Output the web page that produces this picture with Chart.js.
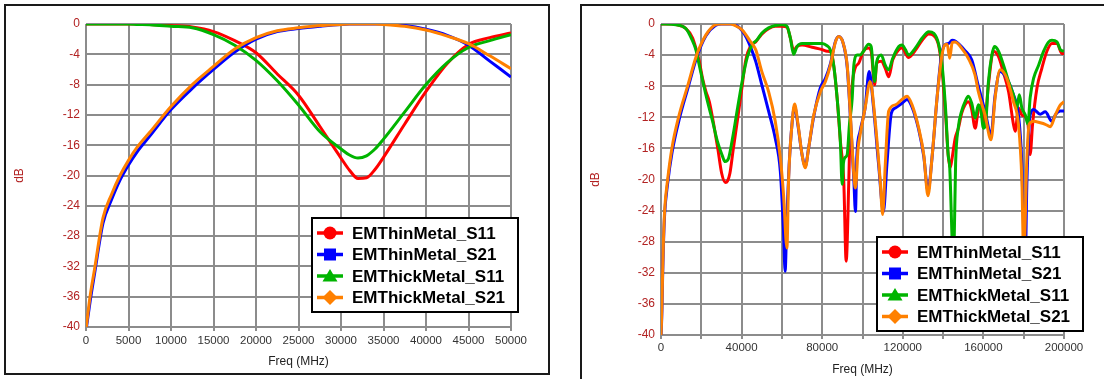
<!DOCTYPE html>
<html>
<head>
<meta charset="utf-8">
<title>EM thin / thick metal S-parameters</title>
<script src="https://cdn.jsdelivr.net/npm/chart.js@4.4.1/dist/chart.umd.min.js"></script>
<style>
  html, body { margin: 0; padding: 0; background: #fff; }
  body { width: 1104px; height: 379px; position: relative; overflow: hidden; }
  .panel { position: absolute; box-sizing: border-box; border: 2px solid #1a1a1a; background: #fff; }
  #panel-left { left: 4px; top: 4px; width: 546px; height: 371px; }
  #panel-right { left: 580px; top: 4px; width: 600px; height: 420px; }
  .plot { position: absolute; }
  #plot-left { left: 7px; top: 7px; width: 540px; height: 365px; }
  #plot-right { left: 583px; top: 7px; width: 521px; height: 372px; }
</style>
</head>
<body>
<div class="panel" id="panel-left"></div>
<div class="panel" id="panel-right"></div>
<div class="plot" id="plot-left"><canvas id="chart-left"></canvas></div>
<div class="plot" id="plot-right"><canvas id="chart-right"></canvas></div>

<script>
// ── Left plot: 0–50 GHz sweep (MHz / dB) ──────────
const freqLeft = [0, 500, 1000, 2000, 3000, 4000, 5000, 6000, 7500, 10000, 12500, 15000, 17500, 20000,
  22500, 25000, 27500, 30000, 31000, 32000, 33000, 34000, 35000, 37500, 40000, 42500, 45000, 47500, 50000];
const thinS11Left = [0, 0, 0, 0, 0, 0, 0, -0.02, -0.05, -0.2, -0.4, -1.0, -2.2, -3.8,
  -6.6, -9.4, -13.5, -17.7, -19.3, -20.4, -20.3, -19.2, -17.6, -13.2, -8.9, -5.2, -2.7, -1.8, -1.2];
const thinS21Left = [-40.5, -36.5, -33, -26.3, -23.2, -20.6, -18.6, -16.9, -14.8, -11.3, -8.5, -6.0, -3.7, -2.0,
  -1.0, -0.6, -0.3, -0.05, 0, 0, 0, 0, 0, -0.2, -0.7, -1.5, -2.8, -4.9, -7.0];
const thickS11Left = [0, 0, 0, 0, 0, 0, 0, -0.05, -0.1, -0.3, -0.5, -1.4, -2.8, -4.8,
  -7.5, -10.7, -14.2, -16.5, -17.3, -17.7, -17.4, -16.5, -15.2, -11.6, -8.0, -5.1, -3.1, -2.2, -1.4];
const thickS21Left = [-40.3, -35.8, -32.4, -25.6, -22.5, -20.0, -18.0, -16.3, -14.3, -10.9, -8.0, -5.6, -3.3, -1.8,
  -0.9, -0.5, -0.2, -0.05, 0, 0, 0, 0, -0.05, -0.3, -0.8, -1.6, -2.6, -4.2, -5.9];

// ── Right plot: 0–200 GHz sweep, [MHz, dB] pairs ──
const thinS11Right = [[0, 0], [5000, 0], [8000, -0.1], [12000, -0.5], [15700, -1.8], [17300, -3.1], [19000, -4.8],
  [20600, -7.0], [22300, -8.7], [24000, -10.0], [25600, -12.1], [27200, -14.5], [28300, -16.2], [30100, -19.2],
  [32000, -20.4], [33000, -20.2], [34200, -19.2], [35800, -16.2], [38300, -11.7], [40000, -8.5], [42100, -4.6],
  [44500, -2.8], [47000, -2.3], [50000, -1.3], [53400, -0.6], [56700, -0.3], [60000, -0.3], [62500, -0.4],
  [64200, -1.8], [65800, -3.4], [67500, -2.9], [70000, -2.7], [75000, -3.0], [80000, -3.3], [82400, -3.5],
  [84500, -3.6], [85700, -5.3], [87400, -9.5], [89000, -15.0], [90700, -20.2], [91900, -30.5], [93200, -20.2],
  [94000, -11.7], [95000, -7.5], [96300, -5.7], [98200, -5.0], [100500, -3.5], [103000, -3.1], [104300, -3.5],
  [106000, -7.8], [107100, -5.0], [109300, -4.8], [111300, -5.7], [113000, -6.8], [115000, -4.6], [118000, -3.3],
  [119600, -3.1], [122900, -4.3], [126200, -3.4], [129600, -2.1], [132900, -1.3], [135400, -1.5], [137900, -2.9],
  [139500, -6.0], [141200, -11.5], [142500, -16.8], [143500, -18.5], [144500, -17.2], [146000, -14.7],
  [147600, -13.4], [149200, -11.5], [150900, -10.4], [152500, -10.0], [154200, -11.0], [155900, -13.4],
  [157500, -11.0], [159200, -10.4], [160500, -12.9], [162500, -7.8], [165000, -3.5], [167500, -4.2],
  [170000, -6.3], [172500, -8.7], [174900, -12.9], [175800, -13.8], [177400, -10.8], [179100, -11.7],
  [181000, -12.0], [182200, -13.0], [183200, -16.8], [184400, -12.9], [186600, -8.2], [189000, -5.7],
  [191500, -3.5], [194000, -2.5], [196500, -2.5], [199000, -3.8], [200000, -3.8]];
const thinS21Right = [[0, -40.5], [500, -36.5], [800, -32.5], [1200, -28.5], [1800, -24.5], [3300, -20.5],
  [5500, -16.5], [9000, -12.3], [13300, -8.3], [17700, -4.3], [22300, -1.5], [27000, -0.2], [30000, 0],
  [35000, 0], [38000, -0.3], [40400, -0.9], [42500, -1.8], [44500, -3.0], [47000, -4.8], [50000, -7.8],
  [53400, -11.2], [56700, -14.7], [59200, -18.9], [60800, -26.6], [61600, -31.8], [62500, -24.5], [63600, -18.1],
  [65000, -12.9], [66300, -10.6], [68000, -13.1], [70000, -16.8], [71600, -18.3], [73300, -15.9], [75800, -11.9],
  [79100, -8.2], [81600, -7.0], [84100, -5.1], [86500, -2.3], [88200, -1.6], [90200, -2.3], [92400, -5.5],
  [94000, -12.0], [95700, -20.0], [96500, -24.1], [97200, -17.0], [98800, -13.8], [101300, -10.8],
  [103300, -6.1], [105500, -10.8], [108000, -18.1], [110400, -24.1], [112100, -18.1], [114300, -11.5],
  [116300, -10.8], [119600, -10.2], [122100, -9.7], [124600, -10.7], [127900, -13.6], [130400, -17.0],
  [132500, -21.5], [134500, -17.2], [137000, -9.5], [139200, -4.0], [140800, -2.7], [142800, -2.5],
  [144500, -2.1], [146000, -2.2], [150800, -3.4], [154200, -4.6], [157500, -8.0], [160800, -11.2],
  [163800, -14.2], [165800, -9.2], [168300, -6.1], [171600, -7.0], [174900, -9.1], [177400, -11.7],
  [179100, -18.1], [180200, -28.8], [180700, -31.0], [181600, -20.2], [183200, -11.7], [184900, -11.0],
  [188200, -11.6], [190700, -11.3], [194000, -12.5], [195700, -11.7], [198200, -11.2], [200000, -11.2]];
const thickS11Right = [[0, 0], [7400, -0.1], [12400, -0.6], [15200, -1.9], [17300, -3.3], [19000, -5.3],
  [20600, -7.2], [23100, -10.0], [25600, -12.5], [28000, -15.1], [30500, -17.0], [31800, -17.7], [33500, -17.3],
  [35500, -14.7], [38000, -10.8], [40400, -7.2], [42900, -4.2], [45400, -2.6], [47500, -2.1], [50000, -1.2],
  [53400, -0.5], [56700, -0.2], [60000, -0.1], [62500, -0.3], [64200, -1.8], [65800, -3.9], [67500, -2.9],
  [70000, -2.5], [80000, -2.5], [82400, -2.8], [84000, -3.3], [85700, -5.3], [87400, -9.5], [89000, -15.1],
  [89900, -20.6], [90500, -18.0], [91200, -17.2], [92400, -16.8], [93500, -13.0], [94900, -9.5], [95700, -5.3],
  [97400, -4.0], [98800, -4.0], [100500, -3.5], [103000, -2.6], [104300, -2.9], [106000, -7.4], [107100, -4.8],
  [109300, -4.0], [111300, -5.3], [113000, -5.9], [115000, -4.4], [118000, -2.9], [119600, -2.7], [121300, -3.3],
  [122900, -4.0], [126200, -3.1], [129600, -1.8], [132900, -1.0], [135400, -1.2], [137900, -2.7], [139500, -5.3],
  [141200, -10.8], [142500, -16.8], [143300, -18.5], [144500, -28.0], [145000, -31.0], [145500, -28.0],
  [146200, -18.0], [147500, -13.4], [149200, -11.2], [150900, -10.0], [152500, -9.3], [154200, -10.2],
  [155900, -12.1], [157500, -10.4], [158800, -11.2], [160000, -13.4], [161200, -12.5], [162500, -7.4],
  [164200, -4.0], [165500, -2.9], [167500, -3.5], [170000, -5.3], [172500, -7.4], [174900, -9.1],
  [176600, -10.8], [177800, -9.1], [179100, -10.8], [180800, -11.7], [182100, -12.9], [183200, -9.5],
  [184900, -7.0], [187400, -5.3], [189900, -3.5], [192400, -2.3], [194000, -2.1], [196500, -2.3],
  [198200, -3.3], [200000, -3.5]];
const thickS21Right = [[0, -40.3], [500, -36.0], [800, -32.0], [1200, -28.0], [1800, -24.0], [3300, -20.0],
  [5400, -16.0], [8700, -12.0], [13200, -8.0], [17700, -4.0], [22300, -1.4], [27000, -0.1], [29000, 0],
  [34600, 0], [37500, -0.3], [40400, -0.8], [44500, -2.3], [47000, -3.3], [50000, -6.1], [53400, -8.7],
  [56700, -12.5], [59200, -17.2], [60800, -21.9], [62500, -28.8], [63300, -20.2], [65000, -12.9], [66300, -10.3],
  [68000, -12.9], [70000, -16.8], [71600, -18.5], [73300, -15.9], [75800, -11.7], [79100, -8.7], [81600, -7.4],
  [84100, -5.3], [86600, -2.3], [88200, -1.6], [90200, -2.3], [92400, -5.3], [94000, -11.7], [95700, -19.4],
  [96500, -21.1], [97800, -16.0], [99000, -14.0], [101300, -10.8], [103800, -7.4], [106300, -12.5],
  [108800, -20.2], [110000, -24.5], [111300, -18.1], [113000, -11.2], [116300, -10.4], [119600, -9.7],
  [122100, -9.3], [124600, -10.4], [127900, -13.4], [130400, -16.8], [132500, -22.1], [134500, -17.2],
  [137000, -9.5], [139200, -4.4], [140800, -2.7], [142000, -2.6], [143300, -4.4], [144500, -2.4], [146000, -2.3],
  [150000, -3.4], [152500, -4.4], [155800, -6.5], [157500, -8.7], [160800, -11.7], [163800, -14.9],
  [165800, -9.5], [168300, -5.9], [171600, -7.0], [174900, -10.0], [177400, -12.9], [179100, -20.2],
  [180000, -30.0], [181600, -17.2], [182700, -12.9], [184900, -12.5], [188200, -12.7], [190700, -12.9],
  [193200, -13.2], [195700, -11.7], [198200, -10.4], [200000, -10.0]];

const seriesNames = ["EMThinMetal_S11", "EMThinMetal_S21", "EMThickMetal_S11", "EMThickMetal_S21"];
const yTicks = { min: -40, max: 0, step: 4 };

// ── Styling ──────────────────────────────────────
const FONT = "'Liberation Sans', Arial, sans-serif";
const COLORS = ["#ff0000", "#0000ff", "#00b400", "#ff8000"];
const MARKERS = ["circle", "square", "triangle", "diamond"];
const DRAW_ORDER = [3, 2, 1, 0]; // orange on top, red at the bottom
const GRID = "#8c8c8c";
const AXIS_RED = "#b22222";

function makeDatasets(seriesList) {
  return seriesList.map(function (points, i) {
    return {
      label: seriesNames[i],
      data: points,
      borderColor: COLORS[i],
      backgroundColor: COLORS[i],
      borderWidth: 3,
      pointRadius: 0,
      cubicInterpolationMode: "monotone",
      order: DRAW_ORDER[i],
    };
  });
}

function drawMarker(ctx, kind, x, y) {
  ctx.beginPath();
  if (kind === "circle") {
    ctx.arc(x, y, 6.5, 0, Math.PI * 2);
  } else if (kind === "square") {
    ctx.rect(x - 6, y - 6, 12, 12);
  } else if (kind === "triangle") {
    ctx.moveTo(x, y - 7);
    ctx.lineTo(x + 7.5, y + 5.5);
    ctx.lineTo(x - 7.5, y + 5.5);
    ctx.closePath();
  } else {
    ctx.moveTo(x, y - 7.5);
    ctx.lineTo(x + 7.5, y);
    ctx.lineTo(x, y + 7.5);
    ctx.lineTo(x - 7.5, y);
    ctx.closePath();
  }
  ctx.fill();
}

// legend box sitting inside the plot, like the original tool draws it
const boxLegend = {
  id: "boxLegend",
  afterDraw: function (chart, args, opts) {
    const ctx = chart.ctx;
    const x = opts.left, y = opts.top, w = 206, h = 94, row = 21.5;
    ctx.save();
    ctx.fillStyle = "#fff";
    ctx.fillRect(x, y, w, h);
    ctx.lineWidth = 2;
    ctx.strokeStyle = "#000";
    ctx.strokeRect(x, y, w, h);
    ctx.font = "bold 17px " + FONT;
    ctx.textBaseline = "middle";
    ctx.textAlign = "left";
    chart.data.datasets.forEach(function (ds, i) {
      const cy = y + 15 + i * row;
      ctx.strokeStyle = ds.borderColor;
      ctx.lineWidth = 3.5;
      ctx.beginPath();
      ctx.moveTo(x + 5, cy);
      ctx.lineTo(x + 31, cy);
      ctx.stroke();
      ctx.fillStyle = ds.borderColor;
      drawMarker(ctx, MARKERS[i], x + 18, cy);
      ctx.fillStyle = "#000";
      ctx.fillText(ds.label, x + 40, cy + 1);
    });
    ctx.restore();
  },
};

function buildChart(canvasId, datasets, xOpts, frame) {
  return new Chart(document.getElementById(canvasId), {
    type: "line",
    data: { datasets: datasets },
    plugins: [boxLegend],
    options: {
      responsive: true,
      maintainAspectRatio: false,
      animation: false,
      events: [],
      layout: { padding: { left: 0, top: 17, right: frame.right, bottom: 0 } },
      plugins: {
        legend: { display: false },
        tooltip: { enabled: false },
        boxLegend: frame.legend,
      },
      scales: {
        x: {
          type: "linear",
          min: xOpts.min,
          max: xOpts.max,
          ticks: {
            stepSize: xOpts.step,
            autoSkip: false,
            maxRotation: 0,
            padding: frame.xPad,
            color: "#333",
            font: { family: FONT, size: 11.5 },
            callback: function (v) {
              return v % xOpts.labelEvery === 0 ? String(v) : "";
            },
          },
          grid: { color: GRID, lineWidth: 2, tickLength: 4 },
          border: { display: false },
          title: {
            display: true,
            text: "Freq (MHz)",
            color: "#222",
            font: { family: FONT, size: 12 },
            padding: { top: 0, bottom: frame.titlePad },
          },
          afterFit: function (s) { s.height = frame.xHeight; },
        },
        y: {
          min: yTicks.min,
          max: yTicks.max,
          ticks: {
            stepSize: yTicks.step,
            padding: 6,
            color: AXIS_RED,
            font: { family: FONT, size: 12 },
          },
          grid: { color: GRID, lineWidth: 2, drawTicks: false },
          border: { display: false },
          title: {
            display: true,
            text: "dB",
            color: AXIS_RED,
            font: { family: FONT, size: 12 },
            padding: { top: 5, bottom: 0 },
          },
          afterFit: function (s) { s.width = frame.yWidth; },
        },
      },
    },
  });
}

// ── Left chart ───────────────────────────────────
const leftSeries = [thinS11Left, thinS21Left, thickS11Left, thickS21Left].map(function (vals) {
  return vals.map(function (v, i) { return { x: freqLeft[i], y: v }; });
});
buildChart("chart-left", makeDatasets(leftSeries),
  { min: 0, max: 50000, step: 5000, labelEvery: 5000 },
  { right: 36, xHeight: 45, yWidth: 79, xPad: 3, titlePad: 3, legend: { left: 305, top: 211 } });

// ── Right chart ──────────────────────────────────
const rightSeries = [thinS11Right, thinS21Right, thickS11Right, thickS21Right].map(function (pairs) {
  return pairs.map(function (p) { return { x: p[0], y: p[1] }; });
});
buildChart("chart-right", makeDatasets(rightSeries),
  { min: 0, max: 200000, step: 20000, labelEvery: 40000 },
  { right: 40, xHeight: 44, yWidth: 78, xPad: 2, titlePad: 2, legend: { left: 294, top: 230 } });
</script>
</body>
</html>
